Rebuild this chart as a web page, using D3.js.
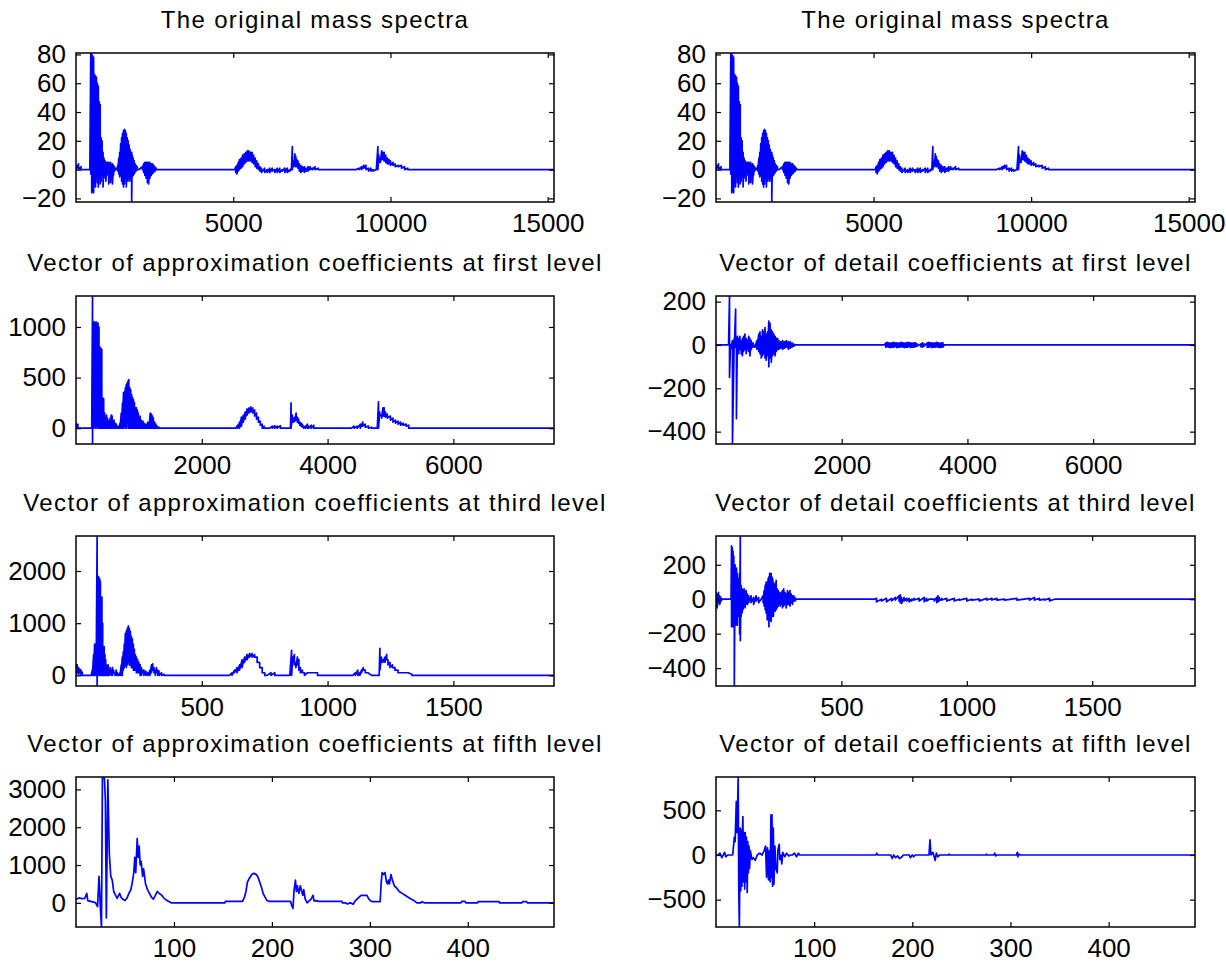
<!DOCTYPE html>
<html><head><meta charset="utf-8">
<script src="https://cdn.jsdelivr.net/npm/d3@7"></script>
<style>
body{margin:0;background:#fff}
svg{display:block}
text{font-family:"Liberation Sans",Arial,Helvetica,sans-serif;fill:#000}
</style>
</head><body><svg id="c" width="1226" height="964"></svg>
<script>
// Each entry: [x, high, low] (min/max column of a dense trace) or [x, value]
const originalSpectrum = [
[0,3,0],[80,4,0],[160,2,0],[250,0],[440,0],
[470,81,-3],[500,81,-16],[530,79,-15],[560,78,-16],[590,66,-10],[620,65,-12],[650,64,-6],[680,60,-9],[710,58,-12],[740,47,-6],[770,45,-10],[800,22,-8],[830,20,-4],[860,12,-12],[890,8,-6],[920,6,-3],[950,5,-8],[980,5,-4],[1010,5,-2],[1040,5,-10],[1070,4,-6],[1100,5,-9],[1130,3,-3],[1160,4,-10],[1190,3,-4],[1220,2,-1],[1260,1,0],[1300,0],
[1330,3,-1],[1360,8,-3],[1390,12,-5],[1420,18,-4],[1450,22,-8],[1480,25,-10],[1510,27,-12],[1540,28,-10],[1570,27,-6],[1600,25,-12],[1630,22,-8],[1660,20,-5],[1690,17,-8],[1720,14,-6],[1750,12,-8],[1770,12,-22.5],[1790,10,-5],[1820,8,-4],[1850,6,-3],[1880,4,-2],[1910,3,-1],[1950,2,0],[2000,0],
[2110,2,0],[2150,4,-2],[2190,5,-4],[2230,5,-6],[2270,5,-9],[2310,5,-10],[2350,5,-6],[2390,4,-4],[2430,4,-3],[2470,3,-2],[2510,2,-1],[2550,1,0],[2600,0],[5050,0],
[5080,2,-2],[5120,3,-3],[5160,5,-1],[5200,7,0],[5250,8,1],[5300,10,2],[5350,11,4],[5400,12,5],[5450,13,6],[5500,13,6],[5550,12,6],[5600,12,5],[5650,10,4],[5700,8,2],[5750,6,1],[5800,4,0],[5850,2,-1],[5900,1,-2],
[6000,1,-2],[6080,0,-2],[6160,1,-2],[6240,1,-1],[6320,0,-2],[6400,1,-2],[6480,1,-2],[6560,0,-1],[6640,1,-2],[6720,1,-2],[6800,0,-1],[6850,1,0],
[6880,16,0],[6900,6,2],[6930,5,2],[6960,11,3],[6990,9,2],[7020,7,2],[7060,6,1],[7100,4,-1],[7150,3,-2],[7200,2,-1],[7260,2,-2],[7320,1,-1],[7380,2,-1],[7450,2,0],[7520,1,0],[7600,2,0],[7700,1,0],[7750,0],[8900,0],
[9000,1,0],[9080,2,0],[9150,3,1],[9220,3,0],[9300,1,-1],[9380,1,-1],[9450,0,-1],[9550,0],
[9600,16,0],[9630,10,5],[9680,8,5],[9720,13,7],[9760,12,7],[9800,12,6],[9850,10,5],[9900,8,4],[9950,7,4],[10000,6,3],[10080,5,3],[10150,4,2],[10250,3,2],[10350,3,1],[10450,2,0],[10550,1,0],[10650,0],[15200,0]
];
const approxLevel1 = [
[0,50,0],[30,40,0],[60,0],[250,0],[263,1306,-156],
[275,1000,0],[290,1050,10],[305,1040,0],[320,1050,0],[335,1030,20],[350,1040,0],[365,1000,0],[380,800,0],[395,790,0],[410,780,0],[425,300,0],[440,290,0],[455,150,0],[470,100,0],[485,130,0],[500,100,0],[515,60,0],[530,80,0],[545,100,0],[560,130,0],[575,120,0],[590,60,0],[605,80,0],[620,50,0],[640,40,0],[660,20,0],[680,0],
[700,50,0],[720,150,0],[740,250,0],[755,350,0],[770,360,20],[785,400,0],[800,430,0],[815,450,50],[830,470,0],[840,480,50],[855,400,0],[870,380,0],[885,330,0],[900,300,0],[915,280,0],[930,250,0],[945,200,0],[960,200,0],[975,180,0],[990,150,0],[1005,100,0],[1020,120,0],[1035,80,0],[1050,60,0],[1065,70,0],[1080,50,0],[1100,40,0],[1120,30,0],[1140,60,0],[1160,30,0],[1180,150,0],[1200,140,0],[1215,120,0],[1230,100,0],[1250,60,0],[1270,40,0],[1290,20,0],[1320,10,0],[1350,0],[2540,0],
[2570,30,0],[2600,60,0],[2630,110,20],[2660,130,60],[2690,160,90],[2720,190,130],[2750,200,150],[2780,210,160],[2810,200,150],[2840,180,120],[2870,150,90],[2900,110,60],[2930,70,30],[2960,40,0],[2990,20,0],[3020,0],[3080,0],[3120,20,0],[3160,25,0],[3200,20,0],[3250,25,0],[3280,0],[3410,0],
[3420,250,0],[3440,130,60],[3460,100,60],[3480,110,70],[3500,150,80],[3520,110,60],[3540,90,50],[3560,60,30],[3580,50,20],[3600,40,10],[3620,20,0],[3650,20,0],[3680,40,0],[3700,20,0],[3740,30,0],[3780,30,0],[3800,0],[4380,0],
[4420,20,0],[4470,20,0],[4520,40,0],[4560,60,20],[4600,40,10],[4650,20,0],[4700,10,0],[4790,0],
[4810,260,0],[4830,160,120],[4860,130,100],[4880,200,120],[4900,200,120],[4920,160,110],[4950,140,100],[5000,120,80],[5040,100,60],[5080,80,50],[5120,70,40],[5160,60,30],[5200,50,30],[5250,40,20],[5290,30,0],[5320,0],[7600,0]
];
const detailLevel1 = [
[0,0],[200,0],[215,226,-150],[230,0,-20],[262,20,-457],[290,30,-20],[312,165,-10],[325,20,-340],[340,40,-30],[360,30,-40],[380,40,-20],[400,20,-40],[420,30,-50],[440,40,-30],[460,50,-20],[480,30,-40],[500,20,-20],[520,40,-30],[540,30,-50],[560,20,-20],[590,10,-10],[620,0,-10],
[650,20,-20],[680,50,-30],[700,60,-40],[720,40,-60],[740,70,-50],[760,60,-40],[780,80,-60],[800,50,-70],[820,60,-50],[840,110,-100],[860,100,-60],[880,70,-80],[900,60,-50],[920,50,-40],[940,40,-50],[960,30,-30],[980,30,-20],[1000,20,-20],[1030,15,-15],[1060,20,-20],[1090,15,-15],[1120,20,-10],[1150,15,-20],[1180,15,-15],[1210,10,-10],[1240,5,-5],[1260,0],[2680,0],
[2700,10,-10],[2725,12,-8],[2750,10,-10],[2775,8,-12],[2800,10,-10],[2825,12,-10],[2850,10,-8],[2875,10,-12],[2900,8,-10],[2925,10,-10],[2950,12,-8],[2975,10,-10],[3000,8,-12],[3025,10,-10],[3050,12,-10],[3075,10,-8],[3100,10,-12],[3125,8,-10],[3150,10,-10],[3175,10,-8],[3200,5,-5],[3230,0],[3260,5,-8],[3285,10,-10],[3310,5,-5],[3330,0],[3360,10,-10],[3385,12,-10],[3410,10,-8],[3435,10,-12],[3460,8,-10],[3485,10,-10],[3510,12,-8],[3535,10,-10],[3560,8,-12],[3585,10,-10],[3610,10,-10],[3630,0],[7620,0]
];
const approxLevel3 = [
[0,220,0],[5,200,50],[10,150,0],[15,120,50],[20,100,0],[25,60,0],[30,0],[60,0],[65,100,0],[70,400,0],[74,600,0],[80,600,0],[84,2671,-204],
[88,1900,0],[91,1880,0],[94,1850,100],[97,1800,0],[100,1500,0],[103,1500,0],[106,1000,0],[109,550,0],[112,550,0],[115,400,0],[118,300,0],[121,200,0],[124,150,0],[128,200,0],[132,100,0],[136,150,50],[140,100,0],[145,150,0],[150,100,50],[155,50,0],[160,100,0],[165,50,0],[170,0],
[175,50,0],[180,200,0],[184,350,0],[188,450,100],[192,600,150],[196,800,200],[200,850,150],[204,900,200],[208,950,250],[212,900,200],[216,850,200],[220,750,150],[224,700,150],[228,600,100],[232,500,100],[236,400,100],[240,350,50],[245,300,50],[250,250,50],[255,200,0],[260,150,0],[265,100,50],[270,100,0],[278,80,0],[286,50,0],[294,100,0],[300,200,50],[305,220,100],[310,150,50],[315,100,0],[320,150,50],[325,100,0],[330,80,0],[340,50,0],[350,20,0],[360,0],[610,0],
[620,50,0],[630,100,50],[640,150,50],[650,200,100],[660,300,150],[670,350,250],[680,400,300],[690,420,350],[700,420,350],[710,400,350],[720,350,250],[730,250,150],[740,150,50],[750,50,0],[760,0],[775,50,0],[790,50,0],[800,0],[850,0],
[857,480,0],[862,350,250],[868,400,200],[874,250,150],[880,350,200],[886,300,100],[892,150,50],[900,100,50],[908,50,0],[920,50],[940,50],[960,50,0],[970,0],[1100,0],
[1110,50,0],[1120,100,0],[1128,50,0],[1135,100,50],[1142,150,100],[1150,100,50],[1160,50],[1175,0],[1205,0],
[1208,520,100],[1214,350,250],[1220,300,250],[1228,350,250],[1235,400,300],[1240,300,200],[1248,250,150],[1258,200,150],[1268,150,100],[1280,100,50],[1295,50],[1320,50],[1335,20,0],[1345,0],[1900,0]
];
const detailLevel3 = [
[0,40,-40],[5,30,-50],[10,40,-20],[15,20,-30],[20,10,-10],[25,0],[60,0],
[62,310,-160],[65,300,-100],[68,280,-160],[71,250,-150],[73,100,-504],[76,200,-100],[79,180,-150],[82,180,-120],[85,150,-150],[88,120,-100],[91,100,-80],[94,150,-200],[97,367,-240],[100,80,-100],[104,60,-80],[108,50,-60],[112,60,-40],[116,40,-50],[120,50,-30],[125,30,-30],[130,20,-20],[140,20,-20],[150,10,-30],[160,20,-10],[170,10,-20],[180,0],
[188,20,-20],[192,50,-40],[196,80,-60],[200,100,-80],[204,100,-120],[208,120,-100],[211,130,-160],[214,150,-120],[217,140,-100],[220,150,-130],[223,130,-100],[226,120,-90],[229,100,-100],[232,80,-60],[236,90,-70],[240,110,-60],[244,60,-50],[248,50,-40],[252,40,-30],[256,30,-40],[260,40,-30],[265,50,-50],[270,60,-40],[275,40,-30],[280,30,-50],[285,50,-30],[290,40,-30],[295,50,-40],[300,30,-20],[305,20,-30],[310,20,-10],[315,10,-10],[320,0],[630,0],
[640,5,-15],[660,0,-10],[680,5,-15],[700,5,-10],[715,10,-5],[730,20,-10],[735,25,-20],[740,10,-25],[750,10,-10],[760,5,-10],[770,5,-15],[780,0,-10],[790,5,-5],[810,5,-10],[830,10,-15],[840,5,-10],[850,0],[870,0,-10],[880,10,-20],[885,20,-15],[890,10,-10],[900,5,-5],[920,5,-10],[950,5,-10],[970,0,-5],[1000,5,-10],[1020,0,-5],[1050,0,-10],[1080,5,-5],[1100,5,-5],[1120,5,-5],[1150,0,-5],[1200,5,-5],[1250,5,-5],[1270,10,-5],[1290,5,-5],[1310,0,-5],[1330,5,-10],[1350,0],[1910,0]
];
const approxLevel5 = [
[0,90],[3,130],[6,110],[9,120],[11,250],[12,60],[15,40],[18,20],[20,0],[22,-100],[23.5,700],[25,-200],[26,-639],[27,3328],[29,3300],[30,2700],[31,-400],[32.5,3250],[34,1300],[35.5,700],[37,600],[38.5,300],[40.5,200],[42,120],[44.5,250],[46,150],[47.5,100],[50,60],[52,120],[54,250],[56,350],[57.5,550],[59,800],[60,1200],[61,800],[62.5,1700],[63.5,1200],[64.5,1500],[65.5,1000],[66.5,1100],[68,700],[69,900],[71,500],[73,350],[75,250],[77,150],[79,100],[81,200],[83,300],[85,250],[87.5,200],[90,120],[93,60],[97,0],
[152,0],[152.5,40],[170,40],[172,150],[173.5,300],[175,550],[177,650],[179.5,750],[181.5,780],[183.5,760],[185.5,700],[187.5,550],[189.5,400],[191,250],[193,150],[195,60],[197,40],[219,40],[220,-50],[221.5,-150],[222.5,300],[224,600],[225,300],[226,450],[227.5,250],[229,450],[230,350],[231.5,200],[232.5,350],[234,100],[236,0],[238,50],[240,100],[242,200],[243,50],[245,60],[248,40],[271.5,40],[272,0],[275,0],[277,-30],[280,0],[283,-40],[285,50],[287,100],[289,150],[291,200],[297,200],[299,100],[301,50],[303,30],[310.5,30],
[311.5,500],[312.5,800],[314,750],[315.5,800],[317,550],[318,500],[319,600],[320,500],[321.5,750],[323,600],[325,450],[327,400],[330,300],[333,250],[336,200],[339,150],[342,100],[345,60],[348,0],[352,0],[353,30],[356,0],[393,0],[394,40],[397,40],[398,0],[410,0],[410.5,30],[432,30],[432.5,0],[455,0],[456,30],[460,30],[461,0],[488,0]
];
const detailLevel5 = [
[0,0],[2,0],[4,20],[6,-30],[8.7,30],[10,-20],[12,0],[17,0],[18.7,200],[19.5,150],[20.7,600],[21.5,250],[22.6,873],[23.2,-400],[23.8,-806],[24.6,300],[25.2,-400],[25.8,280],[26.4,-350],[27,300],[27.4,430],[28,-300],[28.6,250],[29.2,-380],[29.8,250],[30.4,-300],[31,200],[31.8,-420],[32.4,150],[33,-200],[33.6,100],[34.2,-150],[35,50],[36.6,-50],[38,-30],[40,-60],[42,0],[44.5,20],[47,0],[49,50],[50.5,100],[51.5,-250],[52.5,80],[53.5,-280],[54.4,50],[55.2,-300],[56,450],[56.4,-250],[57,450],[57.6,-350],[58.4,300],[59,-330],[60,100],[61,-150],[62.4,-200],[63,50],[64.4,120],[65,-50],[66,0],[67,-100],[68,30],[70,-20],[72,20],[74,-10],[76,0],[78,0],[80,20],[82,-20],[84,20],[85,0],
[163,0],[163.7,20],[165,0],[178,0],[179.6,-40],[181,0],[183,-30],[185,-10],[187,-40],[189.5,-20],[191,0],[197,0],[198,-30],[200,0],[201.4,-20],[203,0],[217,0],[218,170],[219,0],[221,30],[223.3,-60],[224.5,20],[226,-20],[228,0],[237,0],[237.5,10],[238,0],[275,0],[275.5,10],[276,0],[283,0],[284,20],[285,-10],[286,0],[306,0],[307,30],[307.5,-20],[308.5,10],[310,0],[488,0]
];

const panelTitles = [
  "The original mass spectra", "The original mass spectra",
  "Vector of approximation coefficients at first level", "Vector of detail coefficients at first level",
  "Vector of approximation coefficients at third level", "Vector of detail coefficients at third level",
  "Vector of approximation coefficients at fifth level", "Vector of detail coefficients at fifth level"
];
const panelSeries = [originalSpectrum, originalSpectrum, approxLevel1, detailLevel1, approxLevel3, detailLevel3, approxLevel5, detailLevel5];
const xDomains = [[0,15200],[0,15200],[0,7600],[0,7620],[0,1900],[0,1910],[0,488],[0,488]];
const yDomains = [[-22.5,81],[-22.5,81],[-156,1306],[-457,226],[-204,2671],[-504,367],[-639,3328],[-806,873]];
const xTickValues = [[5000,10000,15000],[5000,10000,15000],[2000,4000,6000],[2000,4000,6000],[500,1000,1500],[500,1000,1500],[100,200,300,400],[100,200,300,400]];
const yTickValues = [[-20,0,20,40,60,80],[-20,0,20,40,60,80],[0,500,1000],[-400,-200,0,200],[0,1000,2000],[-400,-200,0,200],[0,1000,2000,3000],[-500,0,500]];

// layout
const colX = [[76,554],[716,1195]];
const rowY = [[53,202],[296,444],[536,686],[777,927]];
const TICK = 5;

const svg = d3.select("#c");
svg.append("rect").attr("width",1226).attr("height",964).attr("fill","#fff");

panelTitles.forEach((title, i) => {
  const col = i % 2, row = Math.floor(i / 2);
  const [x0, x1] = colX[col], [y0, y1] = rowY[row];
  const x = d3.scaleLinear().domain(xDomains[i]).range([x0, x1]);
  const y = d3.scaleLinear().domain(yDomains[i]).range([y1, y0]);
  const g = svg.append("g");

  const clipId = "clip" + i;
  svg.append("clipPath").attr("id", clipId).append("rect")
    .attr("x", x0).attr("y", y0).attr("width", x1 - x0).attr("height", y1 - y0);

  // expand entries into drawing points
  const pts = [];
  panelSeries[i].forEach(d => {
    if (d.length === 2) pts.push([d[0], d[1]]);
    else { pts.push([d[0], d[1]]); pts.push([d[0], d[2]]); }
  });
  const line = d3.line().x(d => x(d[0])).y(d => y(d[1]));
  g.append("path").attr("d", line(pts)).attr("clip-path", `url(#${clipId})`)
    .attr("fill", "none").attr("stroke", "#0000ff").attr("stroke-width", 1.7)
    .attr("stroke-linejoin", "round");

  const style = sel => {
    sel.select(".domain").remove();
    sel.selectAll(".tick line").attr("stroke", "#000").attr("stroke-width", 1.2);
    sel.selectAll("text").attr("font-size", 26).attr("fill", "#111")
      .style("font-family", "'Liberation Sans', Arial, sans-serif");
  };
  g.append("g").attr("transform", `translate(0,${y1})`)
    .call(d3.axisBottom(x).tickValues(xTickValues[i]).tickSize(-TICK).tickPadding(12).tickFormat(d3.format("d"))).call(style);
  g.append("g").attr("transform", `translate(0,${y0})`)
    .call(d3.axisTop(x).tickValues(xTickValues[i]).tickSize(-TICK).tickFormat("")).call(style);
  g.append("g").attr("transform", `translate(${x0},0)`)
    .call(d3.axisLeft(y).tickValues(yTickValues[i]).tickSize(-TICK).tickPadding(10).tickFormat(d3.format("d"))).call(style);
  g.append("g").attr("transform", `translate(${x1},0)`)
    .call(d3.axisRight(y).tickValues(yTickValues[i]).tickSize(-TICK).tickFormat("")).call(style);

  g.append("rect").attr("x", x0).attr("y", y0).attr("width", x1 - x0).attr("height", y1 - y0)
    .attr("fill", "none").attr("stroke", "#000").attr("stroke-width", 1.5);

  g.append("text").attr("x", (x0 + x1) / 2).attr("y", y0 - 25)
    .attr("text-anchor", "middle").attr("font-size", 24).attr("letter-spacing", "1.35px")
    .attr("fill", "#111").text(title);
});
</script>
</body></html>
